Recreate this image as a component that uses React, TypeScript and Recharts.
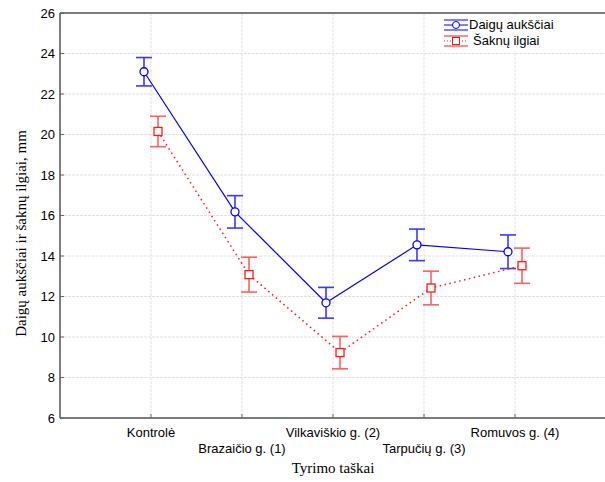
import React from "react";
import {
    LineChart,
    Line,
    XAxis,
    YAxis,
    CartesianGrid,
    ErrorBar,
    ReferenceLine,
    Legend,
} from "recharts";

const categories = ["Kontrolė", "Brazaičio g. (1)", "Vilkaviškio g. (2)", "Tarpučių g. (3)", "Romuvos g. (4)"];
const sprouts = [23.1, 16.18, 11.69, 14.55, 14.21];
const sproutErr = [0.7, 0.8, 0.76, 0.78, 0.83];
const roots = [20.15, 13.08, 9.23, 12.42, 13.52];
const rootErr = [0.75, 0.86, 0.8, 0.83, 0.87];
const yTicks = [6, 8, 10, 12, 14, 16, 18, 20, 22, 24, 26];
const xTicks = [1, 2, 3, 4, 5];

const SHIFT = 0.077; // the two series sit slightly apart around each category

const BLUE = "#0000ff";
const RED = "#ff1a1a";

const sproutData = categories.map((name, i) => ({ name, x: i + 1 - SHIFT, y: sprouts[i], err: sproutErr[i] }));
const rootData = categories.map((name, i) => ({ name, x: i + 1 + SHIFT, y: roots[i], err: rootErr[i] }));

const CircleDot = (props: any) => {
    const { cx, cy } = props;
    if (cx == null || cy == null) return null;
    return <circle cx={cx} cy={cy} r={4} fill="#fff" stroke={BLUE} strokeWidth={1.3} />;
};

const SquareDot = (props: any) => {
    const { cx, cy } = props;
    if (cx == null || cy == null) return null;
    return <rect x={cx - 4} y={cy - 4} width={8} height={8} fill="#fff" stroke={RED} strokeWidth={1.3} />;
};

const YTick = (props: any) => {
    const { x, y, payload } = props;
    return (
        <g>
            <line x1={x + 5} x2={x + 9} y1={y} y2={y} stroke="#666" />
            <text x={x} y={y} dy={4.5} textAnchor="end" fontSize={13} fill="#000" fontFamily="Liberation Sans, Arial, sans-serif">
                {payload.value}
            </text>
        </g>
    );
};

const XTick = (props: any) => {
    const { x, y, payload } = props;
    const idx = payload.value - 1;
    return (
        <g>
            <line x1={x} x2={x} y1={y} y2={y - 4} stroke="#666" />
            <text x={x} y={y} dy={idx % 2 === 0 ? 19 : 35} textAnchor="middle" fontSize={13} fill="#000" fontFamily="Liberation Sans, Arial, sans-serif">
                {categories[idx]}
            </text>
        </g>
    );
};

const LegendBox = () => (
    <div style={{ background: "#fff", padding: "2px 4px", fontFamily: "Liberation Sans, Arial, sans-serif", fontSize: 13, lineHeight: "16px" }}>
        <div style={{ display: "flex", alignItems: "center" }}>
            <svg width={24} height={14}>
                <line x1={0} x2={24} y1={2} y2={2} stroke={BLUE} />
                <line x1={0} x2={24} y1={7} y2={7} stroke={BLUE} />
                <line x1={0} x2={24} y1={12} y2={12} stroke={BLUE} />
                <circle cx={12} cy={7} r={3.5} fill="#fff" stroke={BLUE} />
            </svg>
            <span style={{ marginLeft: 1 }}>Daigų aukščiai</span>
        </div>
        <div style={{ display: "flex", alignItems: "center" }}>
            <svg width={24} height={14}>
                <line x1={0} x2={24} y1={2} y2={2} stroke={RED} />
                <line x1={0} x2={24} y1={7} y2={7} stroke={RED} strokeDasharray="1 2" />
                <line x1={0} x2={24} y1={12} y2={12} stroke={RED} />
                <rect x={8.5} y={3.5} width={7} height={7} fill="#fff" stroke={RED} />
            </svg>
            <span style={{ marginLeft: 5 }}>Šaknų ilgiai</span>
        </div>
    </div>
);

export default function App() {
    return (
        <div style={{ position: "absolute", left: 0, top: 0, width: 605, height: 482, overflow: "hidden", background: "#fff" }}>
            <LineChart width={612} height={482} margin={{ top: 13, right: 6, left: 10, bottom: 14 }}>
                <CartesianGrid stroke="#e2e2e2" strokeDasharray="3 1" />
                <XAxis
                    type="number"
                    dataKey="x"
                    domain={[0, 6]}
                    ticks={xTicks}
                    height={50}
                    tickSize={0}
                    tickMargin={0}
                    tick={<XTick />}
                    axisLine={{ stroke: "#555", strokeWidth: 1.5 }}
                    allowDuplicatedCategory={false}
                    label={{
                        value: "Tyrimo taškai",
                        position: "insideBottom",
                        offset: -5,
                        style: { fontFamily: "Liberation Serif, Times New Roman, serif", fontSize: 15, fill: "#000" },
                    }}
                />
                <YAxis
                    type="number"
                    domain={[6, 26]}
                    ticks={yTicks}
                    width={50}
                    tickSize={0}
                    tickMargin={5}
                    tick={<YTick />}
                    axisLine={{ stroke: "#555", strokeWidth: 1.5 }}
                    label={{
                        content: ({ viewBox }: any) => (
                            <text
                                x={0}
                                y={0}
                                transform={`translate(26, ${viewBox.y + viewBox.height / 2 + 18}) rotate(-90)`}
                                textAnchor="middle"
                                fontFamily="Liberation Serif, Times New Roman, serif"
                                fontSize={15}
                                fill="#000"
                            >
                                Daigų aukščiai ir šaknų ilgiai, mm
                            </text>
                        ),
                    }}
                />
                <ReferenceLine y={26} stroke="#555" strokeWidth={1.5} />
                <Legend
                    verticalAlign="middle"
                    align="center"
                    layout="horizontal"
                    content={<LegendBox />}
                    wrapperStyle={{ top: 15, left: 440, width: 130, height: 38 }}
                />
                <Line
                    data={sproutData}
                    dataKey="y"
                    name="Daigų aukščiai"
                    stroke={BLUE}
                    strokeWidth={1.2}
                    dot={<CircleDot />}
                    activeDot={false}
                    isAnimationActive={false}
                >
                    <ErrorBar dataKey="err" direction="y" width={8} stroke="#3a3aff" strokeWidth={1.6} isAnimationActive={false} />
                </Line>
                <Line
                    data={rootData}
                    dataKey="y"
                    name="Šaknų ilgiai"
                    stroke={RED}
                    strokeWidth={1.5}
                    strokeDasharray="1.5 3.5"
                    dot={<SquareDot />}
                    activeDot={false}
                    isAnimationActive={false}
                >
                    <ErrorBar dataKey="err" direction="y" width={8} stroke="#ff6060" strokeWidth={1.6} isAnimationActive={false} />
                </Line>
            </LineChart>
        </div>
    );
}
